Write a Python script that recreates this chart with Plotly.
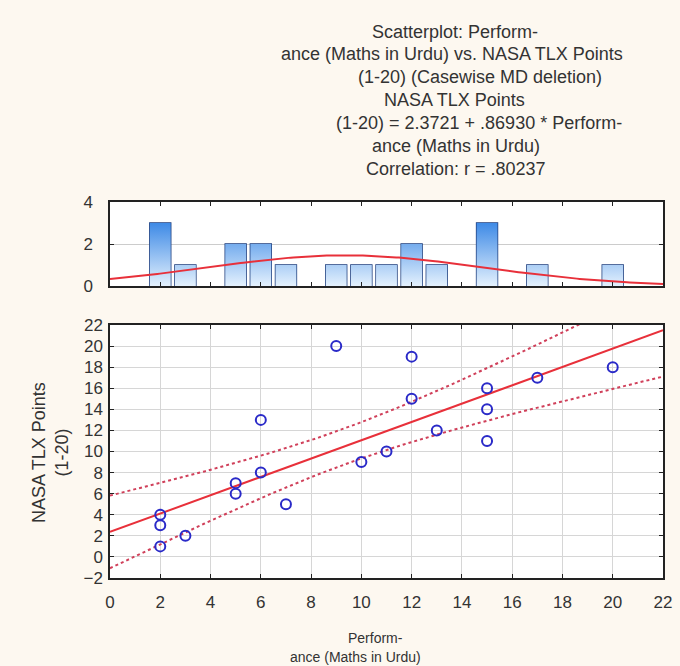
import numpy as np
import plotly.graph_objects as go

# ---- data ----
performance = [2, 2, 2, 3, 5, 5, 6, 6, 7, 9, 10, 11, 12, 12, 13, 15, 15, 15, 17, 20]
nasa_tlx = [4, 3, 1, 2, 7, 6, 13, 8, 5, 20, 9, 10, 19, 15, 12, 16, 14, 11, 17, 18]
x_ticks = list(range(0, 23, 2))
y_ticks = list(range(-2, 23, 2))
hist_ticks = [0, 2, 4]
title_lines = [
    "Scatterplot: Perform-",
    "ance (Maths in Urdu) vs. NASA TLX Points",
    "(1-20) (Casewise MD deletion)",
    "NASA TLX Points",
    "(1-20) = 2.3721 + .86930 * Perform-",
    "ance (Maths in Urdu)",
    "Correlation: r = .80237",
]
x_title_lines = ["Perform-", "ance (Maths in Urdu)"]
y_title = "NASA TLX Points<br>(1-20)"

# ---- derived statistics ----
x = np.array(performance, float)
y = np.array(nasa_tlx, float)
n = len(x)
xm, ym = x.mean(), y.mean()
sxx = ((x - xm) ** 2).sum()
slope = ((x - xm) * (y - ym)).sum() / sxx
icpt = ym - slope * xm
resid = y - (icpt + slope * x)
s = np.sqrt((resid ** 2).sum() / (n - 2))
t975 = 2.100922  # t(0.975, df=18)
xs = np.linspace(0, 22, 200)
fit = icpt + slope * xs
half = t975 * s * np.sqrt(1 / n + (xs - xm) ** 2 / sxx)
vals, counts = np.unique(x, return_counts=True)
sd = x.std(ddof=1)
curve = n * 1.0 * np.exp(-0.5 * ((xs - xm) / sd) ** 2) / (sd * np.sqrt(2 * np.pi))
BAR_W = 0.83

W, H = 680, 666
ml, mr, mt, mb = 110, 8, 202, 88
pw, ph = W - ml - mr, H - mt - mb
def px_to_py(p):
    return (H - mb - p) / ph
def px_to_px(p):
    return (p - ml) / pw

FONT = "Liberation Sans, Arial, sans-serif"
INK = "#222222"
TXT = "#333333"
fig = go.Figure()

# gradient fill of the histogram bars (one polygon per bar, built from the counts)
gx, gy = [], []
for v, c in zip(vals, counts):
    gx += [v - BAR_W / 2, v - BAR_W / 2, v + BAR_W / 2, v + BAR_W / 2, v - BAR_W / 2, None]
    gy += [0, c, c, 0, 0, None]
fig.add_trace(go.Scatter(x=gx, y=gy, xaxis="x", yaxis="y", mode="lines", fill="toself",
                         line=dict(width=0, color="rgba(0,0,0,0)"),
                         fillgradient=dict(type="vertical", start=0, stop=3,
                                           colorscale=[[0, "#E4F1FD"], [1, "#3E8AE6"]]),
                         hoverinfo="skip", showlegend=False))
fig.add_trace(go.Bar(x=vals, y=counts, xaxis="x", yaxis="y",
                     marker=dict(color="rgba(0,0,0,0)", line=dict(color="#1C3C7C", width=1.5)),
                     width=BAR_W, showlegend=False))
fig.add_trace(go.Scatter(x=xs, y=curve, xaxis="x", yaxis="y", mode="lines",
                         line=dict(color="#E8303A", width=2), showlegend=False))

fig.add_trace(go.Scatter(x=xs, y=fit + half, xaxis="x2", yaxis="y2", mode="lines",
                         line=dict(color="#D0405A", width=2, dash="dot"), showlegend=False))
fig.add_trace(go.Scatter(x=xs, y=fit - half, xaxis="x2", yaxis="y2", mode="lines",
                         line=dict(color="#D0405A", width=2, dash="dot"), showlegend=False))
fig.add_trace(go.Scatter(x=xs, y=fit, xaxis="x2", yaxis="y2", mode="lines",
                         line=dict(color="#E8303A", width=2), showlegend=False))
fig.add_trace(go.Scatter(x=performance, y=nasa_tlx, xaxis="x2", yaxis="y2", mode="markers",
                         marker=dict(symbol="circle-open", size=10, color="#2A2AC8",
                                     line=dict(width=2, color="#2A2AC8")),
                         showlegend=False))

axis_common = dict(showline=True, linecolor=INK, linewidth=1.5, mirror="ticks",
                   ticks="inside", ticklen=4, tickcolor=INK, zeroline=False,
                   tickfont=dict(family=FONT, size=17, color=TXT))
hist_bottom = px_to_py(286)
scat_top = px_to_py(325)
fig.update_layout(
    width=W, height=H,
    margin=dict(l=ml, r=mr, t=mt, b=mb),
    paper_bgcolor="#FDF8F0", plot_bgcolor="#FFFFFF",
    xaxis=dict(domain=[0, 1], range=[0, 22], anchor="y", tickvals=x_ticks,
               showticklabels=False, showgrid=False, **axis_common),
    yaxis=dict(domain=[hist_bottom, 1], range=[0, 4], anchor="x", tickvals=hist_ticks,
               showgrid=True, gridcolor="#CCCCCC", ticklabelstandoff=12, **axis_common),
    xaxis2=dict(domain=[0, 1], range=[0, 22], anchor="y2", tickvals=x_ticks,
                showgrid=True, gridcolor="#D6D6D6", ticklabelstandoff=8, **axis_common),
    yaxis2=dict(domain=[0, scat_top], range=[-2, 22], anchor="x2", tickvals=y_ticks,
                showgrid=True, gridcolor="#D6D6D6", ticklabelstandoff=2, **axis_common),
)

title_pos = [(461, 32), (458, 54), (486, 77), (460, 100), (485, 123), (462, 146), (462, 169)]
for txt, (cx, cy) in zip(title_lines, title_pos):
    fig.add_annotation(text=txt, x=px_to_px(cx), y=px_to_py(cy), xref="paper", yref="paper",
                       xanchor="center", yanchor="middle", showarrow=False,
                       font=dict(family=FONT, size=18, color=TXT))
for txt, (cx, cy) in zip(x_title_lines, [(380, 638), (359, 657)]):
    fig.add_annotation(text=txt, x=px_to_px(cx), y=px_to_py(cy), xref="paper", yref="paper",
                       xanchor="center", yanchor="middle", showarrow=False,
                       font=dict(family=FONT, size=14, color=TXT))
fig.add_annotation(text=y_title, x=px_to_px(49), y=px_to_py(452), xref="paper", yref="paper",
                   xanchor="center", yanchor="middle", showarrow=False, textangle=-90,
                   font=dict(family=FONT, size=18, color=TXT))

fig.write_html("out.html")
